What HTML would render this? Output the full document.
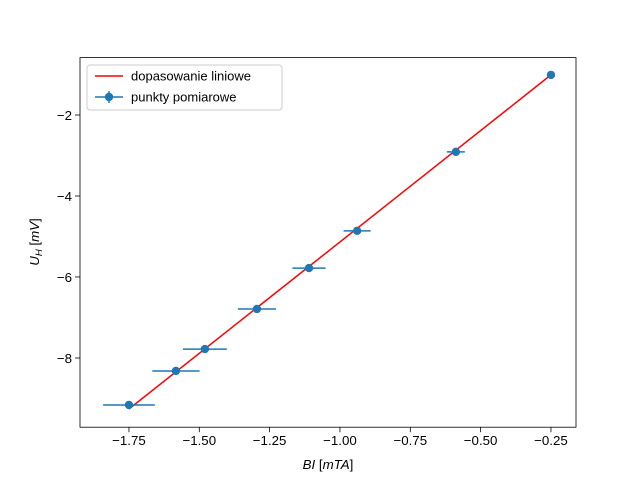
<!DOCTYPE html>
<html><head><meta charset="utf-8"><style>
body{margin:0;background:#fff;}
svg{display:block;font-family:"Liberation Sans","DejaVu Sans",sans-serif;}
</style></head><body>
<svg id="chart" width="640" height="480"></svg>
<script>
const xValues=[-1.75,-1.583,-1.480,-1.295,-1.110,-0.939,-0.588,-0.250];
const yValues=[-9.16,-8.32,-7.78,-6.79,-5.78,-4.86,-2.91,-1.01];
const xErrors=[0.092,0.084,0.078,0.068,0.059,0.048,0.032,0.005];
const yErrors=[0.05,0.05,0.05,0.05,0.05,0.05,0.05,0.05];
const fitSlope=[5.5];
const fitIntercept=[0.365];
const xTicks=[-1.75,-1.5,-1.25,-1.0,-0.75,-0.5,-0.25];
const xTickLabels=["\u22121.75","\u22121.50","\u22121.25","\u22121.00","\u22120.75","\u22120.50","\u22120.25"];
const yTicks=[-8,-6,-4,-2];
const yTickLabels=["\u22128","\u22126","\u22124","\u22122"];

const NS="http://www.w3.org/2000/svg";
const svg=document.getElementById('chart');
const L=80,R=576,T=57.6,B=427.2;
const xmin=-1.924,xmax=-0.161,ymin=-9.709,ymax=-0.583;
const sx=v=>L+(v-xmin)/(xmax-xmin)*(R-L);
const sy=v=>B-(v-ymin)/(ymax-ymin)*(B-T);
function el(tag,attrs,text){const e=document.createElementNS(NS,tag);for(const k in attrs)e.setAttribute(k,attrs[k]);if(text!==undefined)e.textContent=text;svg.appendChild(e);return e;}

const fx0=xValues[0],fx1=xValues[xValues.length-1];
const fit=el('line',{x1:sx(fx0),y1:sy(fitSlope[0]*fx0+fitIntercept[0]),x2:sx(fx1),y2:sy(fitSlope[0]*fx1+fitIntercept[0]),stroke:'#ff0000','stroke-width':1.5});



xValues.forEach((x,i)=>{
  const y=yValues[i];
  const eb=el('line',{x1:sx(x-xErrors[i]),y1:sy(y),x2:sx(x+xErrors[i]),y2:sy(y),stroke:'#1f77b4','stroke-width':1.5});
  
  
  const ey=el('line',{x1:sx(x),y1:sy(y-yErrors[i]),x2:sx(x),y2:sy(y+yErrors[i]),stroke:'#1f77b4','stroke-width':1.5});
  
  
  const c=el('circle',{cx:sx(x),cy:sy(y),r:4.2,fill:'#1f77b4'});
  
  
});

const fr=el('rect',{x:L,y:T,width:R-L,height:B-T,fill:'none',stroke:'#000','stroke-width':0.8});



xTicks.forEach((t,i)=>{
  const tk=el('line',{x1:sx(t),y1:B,x2:sx(t),y2:B+5,stroke:'#000','stroke-width':0.8});
  
  
  const lb=el('text',{x:sx(t),y:B+18,'font-size':13.3,'text-anchor':'middle'},xTickLabels[i]);
  
  
});
yTicks.forEach((t,i)=>{
  const tk=el('line',{x1:L-5,y1:sy(t),x2:L,y2:sy(t),stroke:'#000','stroke-width':0.8});
  
  
  const lb=el('text',{x:L-8,y:sy(t)+5,'font-size':13.3,'text-anchor':'end'},yTickLabels[i]);
  
  
});
</script>
<svg width="640" height="480" style="position:absolute;left:0;top:0">
  <text x="328" y="469" font-size="13.3" text-anchor="middle" font-family="Liberation Sans,sans-serif"><tspan font-style="italic">BI</tspan> [<tspan font-style="italic">mTA</tspan>]</text>
  <text transform="translate(39,242) rotate(-90)" font-size="13.3" text-anchor="middle" font-family="Liberation Sans,sans-serif"><tspan font-style="italic">U</tspan><tspan font-style="italic" font-size="9.5" dy="3">H</tspan><tspan dy="-3"> [</tspan><tspan font-style="italic">mV</tspan>]</text>
  <g>
    <rect x="87" y="65" width="195" height="45" rx="3" fill="#fff" fill-opacity="0.8" stroke="#ccc" stroke-width="1"/>
    <line x1="95" y1="76" x2="123" y2="76" stroke="#ff0000" stroke-width="1.5"/>
    <text x="131" y="80.5" font-size="13" font-family="Liberation Sans,sans-serif">dopasowanie liniowe</text>
    <line x1="95" y1="97" x2="123" y2="97" stroke="#1f77b4" stroke-width="1.5"/>
    <line x1="109" y1="91" x2="109" y2="103" stroke="#1f77b4" stroke-width="1.5"/>
    <circle cx="109" cy="97" r="4.2" fill="#1f77b4"/>
    <text x="131" y="101.5" font-size="13" font-family="Liberation Sans,sans-serif">punkty pomiarowe</text>
  </g>
</svg>
</body></html>
